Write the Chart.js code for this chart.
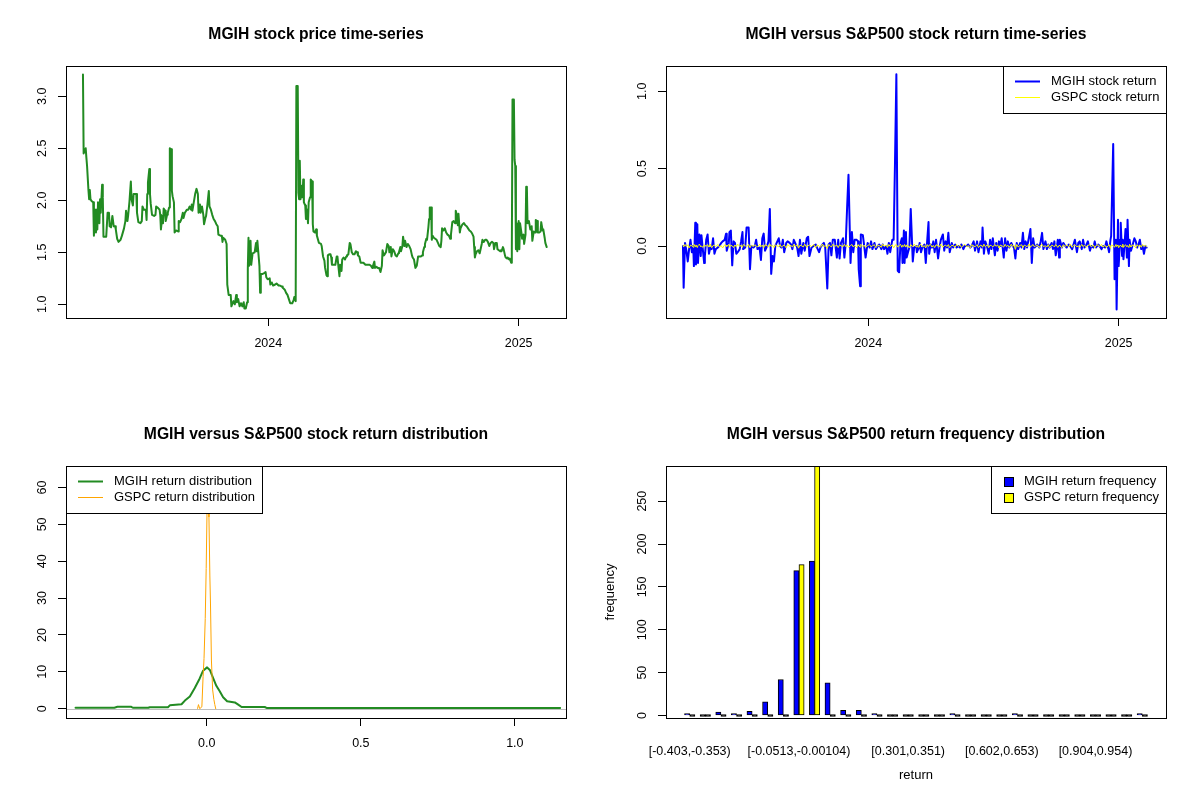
<!DOCTYPE html>
<html>
<head>
<meta charset="utf-8">
<title>MGIH vs S&amp;P500</title>
<script src="https://cdn.jsdelivr.net/npm/chart.js@4.4.1/dist/chart.umd.min.js"></script>
<style>
    html, body { margin: 0; padding: 0; background: #ffffff; }
    #wrap { position: relative; width: 1200px; height: 800px; }
    #wrap canvas { position: absolute; width: 600px; height: 400px; }
</style>
</head>
<body>
<div id="wrap">
    <canvas id="priceChart" width="600" height="400" style="left:0;top:0"></canvas>
    <canvas id="returnChart" width="600" height="400" style="left:600px;top:0"></canvas>
    <canvas id="densityChart" width="600" height="400" style="left:0;top:400px"></canvas>
    <canvas id="freqChart" width="600" height="400" style="left:600px;top:400px"></canvas>
</div>
<script>
// x values of the time-series are days counted from 2024-01-01
const yearTicks = [0, 366];
const yearLabels = ["2024", "2025"];

const priceDays = [
    -271,-270,-267,-266,-265,-263,-262,-261,-260,-258,
    -256,-255,-253,-252,-251,-250,-249,-247,-246,-245,
    -243,-242,-241,-237,-235,-233,-232,-230,-228,-226,
    -224,-223,-221,-219,-216,-214,-211,-209,-208,-206,
    -205,-203,-201,-200,-198,-197,-193,-192,-190,-187,
    -185,-184,-182,-179,-178,-177,-176,-174,-173,-172,
    -170,-167,-165,-164,-162,-159,-158,-157,-155,-154,
    -153,-151,-150,-148,-147,-145,-144,-142,-141,-140,
    -138,-137,-135,-132,-131,-129,-127,-125,-124,-122,
    -119,-117,-115,-113,-112,-111,-109,-107,-105,-103,
    -102,-100,-99,-97,-95,-94,-92,-91,-89,-87,
    -86,-84,-82,-80,-78,-76,-74,-73,-70,-68,
    -67,-66,-63,-61,-60,-58,-55,-54,-51,-49,
    -47,-46,-44,-42,-40,-38,-36,-35,-33,-31,
    -30,-29,-28,-26,-25,-23,-20,-18,-17,-16,
    -14,-13,-12,-11,-9,-6,-4,-3,-1,2,
    3,5,7,10,12,15,17,20,21,24,
    26,28,31,32,35,37,38,40,41,43,
    44,45,46,47,48,49,50,51,52,54,
    55,57,58,59,61,62,64,65,66,68,
    70,71,74,77,78,80,82,83,85,86,
    87,89,91,92,93,95,98,100,101,103,
    104,105,107,108,110,112,114,115,117,119,
    120,122,124,126,128,130,131,133,135,137,
    139,142,145,148,150,152,153,155,156,158,
    160,162,164,166,167,169,170,172,174,176,
    177,179,180,182,184,186,188,190,191,193,
    194,196,197,199,200,202,204,206,208,210,
    211,213,215,217,219,221,223,225,226,228,
    229,231,232,234,235,236,238,239,240,242,
    244,246,248,250,252,253,254,256,258,260,
    262,264,266,267,269,271,273,274,276,277,
    278,280,281,283,284,286,288,290,292,294,
    296,298,300,301,302,303,305,307,309,310,
    312,313,315,317,319,321,323,325,327,329,
    330,332,334,335,337,339,340,341,343,344,
    346,347,349,350,352,353,355,356,357,359,
    360,361,362,363,364,366,367,368,370,371,
    373,374,376,377,378,379,381,383,385,386,
    388,390,391,393,394,396,398,399,401,402,
    404,405,407
];
const priceVals = [
    3.21,2.45,2.50,2.41,2.33,2.10,2.01,2.10,2.01,1.99,
    1.98,1.66,1.91,1.69,1.91,1.72,1.98,1.78,2.01,1.88,
    2.15,2.03,1.65,1.65,1.88,1.88,1.75,1.74,1.85,1.75,
    1.75,1.72,1.63,1.60,1.62,1.66,1.73,1.80,1.90,1.80,
    1.85,1.99,2.18,2.01,1.95,2.06,2.06,1.88,1.79,1.78,
    1.80,1.94,1.91,1.91,1.81,2.06,2.17,2.30,2.06,1.97,
    1.86,1.85,1.86,1.94,1.93,1.91,1.86,1.72,1.85,1.78,
    1.92,1.90,1.80,1.86,1.88,1.93,2.50,2.49,2.09,2.04,
    1.98,1.69,1.71,1.70,1.80,1.79,1.82,1.88,1.83,1.88,
    1.91,1.91,1.94,1.91,1.96,1.90,1.98,2.06,2.11,2.06,
    1.88,1.96,1.88,1.94,1.86,1.77,1.83,1.85,1.96,2.09,
    1.94,1.91,1.86,1.82,1.80,1.77,1.75,1.67,1.66,1.66,
    1.60,1.64,1.62,1.58,1.19,1.09,1.09,0.98,1.03,1.00,
    1.09,1.02,1.05,0.98,1.01,0.98,1.02,0.96,0.96,1.02,
    1.34,1.64,1.37,1.61,1.38,1.49,1.50,1.59,1.51,1.61,
    1.45,1.37,1.11,1.29,1.29,1.30,1.31,1.26,1.24,1.25,
    1.19,1.21,1.18,1.19,1.20,1.18,1.18,1.17,1.16,1.14,
    1.11,1.09,1.03,1.01,1.01,1.04,1.07,1.03,3.10,3.10,
    2.07,2.01,2.38,2.01,2.04,2.14,2.03,2.20,1.98,1.95,
    1.82,1.91,1.78,1.98,2.03,2.20,2.18,1.77,1.70,1.69,
    1.72,1.66,1.59,1.58,1.56,1.46,1.42,1.35,1.28,1.27,
    1.47,1.48,1.48,1.45,1.38,1.38,1.38,1.46,1.46,1.33,
    1.27,1.38,1.32,1.43,1.45,1.43,1.46,1.47,1.48,1.59,
    1.58,1.50,1.48,1.48,1.51,1.50,1.47,1.46,1.40,1.40,
    1.40,1.38,1.38,1.38,1.37,1.35,1.37,1.41,1.35,1.36,
    1.35,1.35,1.31,1.37,1.52,1.47,1.48,1.50,1.58,1.56,
    1.50,1.55,1.46,1.53,1.51,1.47,1.46,1.49,1.50,1.55,
    1.51,1.56,1.65,1.56,1.61,1.55,1.58,1.56,1.53,1.47,
    1.45,1.43,1.35,1.37,1.46,1.46,1.46,1.47,1.50,1.55,
    1.58,1.63,1.62,1.74,1.82,1.93,1.93,1.62,1.66,1.64,
    1.63,1.62,1.59,1.56,1.55,1.61,1.73,1.71,1.73,1.69,
    1.67,1.66,1.63,1.67,1.79,1.80,1.78,1.90,1.85,1.76,
    1.87,1.69,1.73,1.76,1.77,1.78,1.76,1.75,1.73,1.71,
    1.70,1.68,1.65,1.55,1.45,1.48,1.51,1.52,1.49,1.52,
    1.58,1.62,1.60,1.62,1.62,1.60,1.56,1.59,1.60,1.59,
    1.53,1.59,1.59,1.53,1.52,1.51,1.52,1.51,1.55,1.53,
    1.47,1.45,1.44,1.45,1.43,1.44,1.40,1.53,2.97,2.97,
    2.39,2.33,1.53,1.78,1.51,1.80,1.53,1.78,1.69,1.63,
    1.67,1.58,1.67,2.13,2.12,1.78,1.80,1.72,1.75,1.61,
    1.70,1.69,1.81,1.80,1.69,1.69,1.70,1.79,1.71,1.72,
    1.64,1.59,1.55
];

// daily returns, MGIH and GSPC share the same trading days
const retDays = [
    -271,-270,-268,-266,-264,-262,-260,-258,-256,-255,
    -253,-252,-250,-249,-247,-245,-244,-242,-240,-239,
    -237,-235,-233,-231,-229,-227,-225,-223,-220,-218,
    -215,-213,-210,-208,-207,-204,-203,-201,-199,-197,
    -195,-193,-191,-188,-186,-184,-183,-180,-178,-175,
    -173,-171,-168,-166,-164,-162,-159,-157,-155,-153,
    -151,-148,-146,-144,-142,-140,-138,-136,-134,-131,
    -129,-127,-125,-123,-120,-118,-115,-113,-111,-109,
    -107,-104,-102,-100,-98,-95,-93,-90,-88,-86,
    -83,-80,-77,-75,-72,-70,-67,-65,-63,-60,
    -58,-56,-54,-52,-49,-46,-44,-42,-40,-37,
    -35,-33,-31,-29,-26,-24,-22,-20,-17,-15,
    -14,-12,-11,-8,-6,-4,-1,2,4,6,
    9,11,14,16,19,21,23,26,28,30,
    32,35,37,39,41,43,45,47,49,50,
    52,53,55,56,58,60,62,65,67,70,
    71,74,75,77,79,82,84,86,88,89,
    91,93,95,97,99,102,104,106,109,111,
    113,115,117,119,122,124,127,129,132,134,
    136,139,141,144,146,149,151,154,156,159,
    161,164,166,167,169,171,174,176,178,180,
    182,185,187,189,191,193,195,198,200,202,
    204,206,209,211,213,215,217,219,222,224,
    226,228,230,232,235,237,239,241,243,245,
    247,250,252,254,256,259,261,263,265,268,
    270,272,274,277,279,280,283,285,288,290,
    293,295,298,300,302,305,307,309,312,314,
    316,319,321,324,326,329,331,333,336,338,
    341,343,346,348,351,352,354,355,358,360,
    362,363,365,366,368,369,371,372,373,375,
    376,378,379,381,382,384,386,389,391,393,
    395,397,399,401,403,405,407
];
const mgihReturns = [
    0,-0.27,0.02,-0.03,-0.10,-0.02,0.04,-0.04,0,-0.13,
    0.15,-0.12,0.14,-0.11,0.075,-0.065,0.07,-0.02,-0.11,-0.065,
    0.04,0.075,-0.05,-0.01,-0.02,0.05,-0.05,-0.02,-0.01,0,
    0.02,0.03,0.04,0.08,-0.03,0.02,0.09,0.10,-0.125,0.03,
    0.02,-0.05,-0.04,-0.02,0.03,0.09,-0.02,-0.01,0.12,0.12,
    -0.15,0,-0.01,0,0.04,-0.02,-0.01,-0.09,0.05,0.08,
    -0.03,0,0.03,0.24,-0.18,-0.065,-0.10,0,0.02,0.05,
    0,-0.01,0.04,-0.04,0.02,0.03,0.02,0.01,-0.02,0.04,
    0.02,-0.01,-0.065,0.04,-0.05,0.02,-0.03,0.05,0.06,-0.065,
    -0.01,0,0.01,-0.01,-0.04,-0.01,0.01,0.02,-0.01,-0.275,
    0.01,0.02,-0.06,0.04,0.04,-0.075,0.04,-0.08,0.02,0.05,
    -0.075,0.02,0.25,0.46,-0.11,0.09,-0.04,0.04,0.04,0.03,
    -0.155,-0.26,0.075,0.07,0,-0.075,0.02,-0.01,0.03,-0.02,
    0.02,-0.02,0,0.01,-0.02,0.01,-0.02,0,-0.05,0.02,
    -0.04,0.04,0.04,0.54,1.11,-0.16,-0.17,0.02,0.05,-0.11,
    0.10,-0.11,0.09,-0.075,-0.04,-0.01,0.24,-0.10,-0.01,0,
    -0.04,-0.01,0.02,-0.04,-0.01,0.01,-0.11,0.03,0.155,-0.05,
    0.01,-0.01,0.03,-0.04,0.04,-0.08,-0.01,0.04,0.075,-0.03,
    0.03,-0.01,0.085,-0.04,0.02,-0.01,0.01,-0.01,0,-0.01,
    0.01,-0.02,0,0,0.01,-0.01,0,0.03,-0.03,0.03,
    -0.04,0.03,-0.01,0.12,-0.05,0.03,-0.01,-0.05,0.04,-0.02,
    0.05,-0.06,0.02,-0.03,0.03,0,0.05,-0.075,0.05,-0.03,
    0.03,-0.01,0.02,0,-0.01,-0.08,0.02,-0.02,0.02,-0.01,
    0.085,-0.02,0.03,-0.01,0.06,0.11,-0.11,0.05,-0.01,0,
    0.01,-0.01,0.03,0.085,-0.02,0.03,-0.02,0.01,-0.01,0.02,
    -0.02,0.03,-0.06,0.04,-0.075,0.04,-0.01,0.02,0,-0.01,
    0.01,0,-0.02,0.01,0.04,-0.04,0.02,0.03,-0.02,0.04,
    -0.01,0.01,0.03,-0.03,0,-0.01,0.03,-0.01,0.01,0,
    -0.02,0,-0.01,0.03,-0.02,-0.04,0.04,0.065,0.66,-0.215,
    0.04,-0.41,0.17,-0.13,0.04,0.15,-0.065,0.04,-0.085,0.04,
    0.11,-0.075,0.17,-0.13,0.04,-0.03,0,0.05,0.03,-0.01,
    0.01,0.04,-0.02,0,-0.05,0,-0.01
];
const gspcReturns = [
    0.004,-0.006,0.010,-0.003,0.008,-0.012,0.005,0.002,-0.008,0.011,
    -0.004,0.007,-0.010,0.003,0.012,-0.005,0.001,-0.009,0.006,0.004,
    -0.002,0.009,-0.007,0.013,-0.011,0.003,0.006,-0.004,0.010,-0.006,
    0.002,-0.013,0.008,0.005,-0.003,0.011,-0.008,0.004,0.001,-0.010,
    0.007,-0.005,0.012,-0.002,0.004,-0.009,0.009,0.003,-0.006,0.010,
    -0.011,0.005,-0.003,0.008,0.002,-0.007,0.011,-0.004,0.006,-0.012,
    0.009,0.001,-0.006,0.012,-0.003,0.005,-0.010,0.007,0.003,-0.005,
    0.010,-0.008,0.002,0.006,-0.012,0.009,-0.001,0.004,-0.007,0.011,
    -0.003,0.008,-0.014,0.005,0.003,-0.006,0.012,-0.009,0.002,0.007,
    -0.004,0.010,-0.011,0.006,0.001,-0.008,0.013,-0.005,0.004,-0.016,
    0.009,0.003,-0.007,0.011,-0.002,0.006,-0.010,0.008,0.002,-0.005,
    0.012,-0.004,0.007,-0.009,0.003,0.010,-0.006,0.005,-0.012,0.008,
    0.001,-0.007,0.011,-0.003,0.006,-0.010,0.004,0.009,-0.005,0.002,
    0.008,-0.011,0.005,0.003,-0.008,0.012,-0.002,0.006,-0.009,0.010,
    -0.004,0.007,-0.012,0.004,0.009,-0.006,0.002,0.011,-0.008,0.005,
    -0.003,0.010,-0.007,0.006,0.001,-0.011,0.008,-0.004,0.012,-0.006,
    0.003,-0.009,0.007,0.010,-0.005,0.002,-0.012,0.009,-0.003,0.006,
    0.011,-0.007,0.004,-0.010,0.008,0.001,-0.005,0.012,-0.008,0.003,
    0.006,-0.004,0.009,-0.011,0.005,0.002,-0.007,0.010,-0.003,0.007,
    -0.009,0.004,0.011,-0.006,0.003,-0.012,0.008,0.001,-0.005,0.009,
    -0.010,0.006,0.002,-0.008,0.012,-0.004,0.007,-0.011,0.005,0.003,
    -0.006,0.010,-0.002,0.008,-0.013,0.006,0.003,-0.007,0.011,-0.004,
    0.005,-0.009,0.012,-0.003,0.007,-0.022,0.010,-0.006,0.004,0.008,
    -0.011,0.006,0.002,-0.005,0.013,-0.008,0.004,0.009,-0.006,0.003,
    0.007,-0.010,0.005,0.011,-0.004,0.002,-0.007,0.009,-0.012,0.006,
    0.003,-0.006,0.010,-0.009,0.005,0.001,-0.011,0.008,-0.003,0.007,
    -0.005,0.012,-0.008,0.004,0.009,-0.006,0.002,-0.010,0.011,-0.004,
    0.006,-0.008,0.003,0.010,-0.005,0.007,-0.012,0.004,0.008,-0.003,
    0.011,-0.007,0.005,-0.010,0.002,0.009,-0.015,0.006,0.003,-0.008,
    0.010,-0.004,0.007,-0.011,0.005,0.002,-0.006,0.012,-0.009,0.004,
    0.008,-0.005,0.003,-0.010,0.011,-0.007,0.006,0.001,-0.012,0.009,
    -0.004,0.007,-0.008,0.010,-0.003,0.005,-0.006
];

// kernel density curves
const mgihDensX = [-0.426,-0.30,-0.29,-0.245,-0.24,-0.19,-0.185,-0.126,-0.12,-0.082,-0.071,-0.055,-0.039,-0.023,-0.012,0.001,0.010,0.021,0.031,0.042,0.053,0.066,0.091,0.102,0.113,0.188,0.194,0.45,0.70,1.147];
const mgihDensY = [0.25,0.25,0.5,0.5,0.25,0.25,0.4,0.4,0.9,1.2,2.2,3.3,5.6,8.2,10.3,11.2,10.5,8.2,6.2,4.7,3.1,2.0,1.7,1.1,0.45,0.45,0.2,0.2,0.2,0.2];
const gspcDensX = [-0.030,-0.027,-0.023,-0.016,-0.012,-0.009,-0.005,-0.002,0.001,0.004,0.007,0.010,0.012,0.015,0.019,0.023,0.026,0.029];
const gspcDensY = [0,1.1,0,0.5,8.7,13.6,24.5,38,55,63.3,52,36,28.4,13.2,5.1,2.5,1.1,0];

// return frequency table
const binLabels = [
    "[-0.403,-0.353)","[-0.353,-0.303)","[-0.303,-0.252)","[-0.252,-0.202)","[-0.202,-0.152)",
    "[-0.152,-0.102)","[-0.102,-0.0513)","[-0.0513,-0.00104)","[-0.00104,0.0492)","[0.0492,0.0995)",
    "[0.0995,0.15)","[0.15,0.2)","[0.2,0.25)","[0.25,0.301)","[0.301,0.351)",
    "[0.351,0.401)","[0.401,0.451)","[0.451,0.502)","[0.502,0.552)","[0.552,0.602)",
    "[0.602,0.653)","[0.653,0.703)","[0.703,0.753)","[0.753,0.803)","[0.803,0.854)",
    "[0.854,0.904)","[0.904,0.954)","[0.954,1)","[1,1.05)","[1.05,1.11]"
];
const shownBins = [0, 7, 14, 20, 26];
const mgihFreq = [1,0,4,1,5,16,42,169,180,38,6,6,1,0,0,0,0,1,0,0,0,1,0,0,0,0,0,0,0,1];
const gspcFreq = [0,0,0,0,0,0,0,176,291,0,0,0,0,0,0,0,0,0,0,0,0,0,0,0,0,0,0,0,0,0];

const FONT = "'Liberation Sans', Arial, Helvetica, sans-serif";
const TICK_SIZE = 12.5;
Chart.defaults.font.family = FONT;
Chart.defaults.font.size = TICK_SIZE;
Chart.defaults.color = "#000000";

const pts = (xs, ys) => xs.map((x, i) => ({ x, y: ys[i] }));

// R-like box around the plot region plus vertical y tick labels
const rFrame = {
    id: "rFrame",
    afterDraw(chart, args, opts) {
        const { ctx, chartArea: a } = chart;
        const ys = chart.scales.y;
        ctx.save();
        ctx.font = TICK_SIZE + "px " + FONT;
        ctx.fillStyle = "#000";
        ctx.textAlign = "center";
        ctx.textBaseline = "middle";
        ys.ticks.forEach(t => {
            ctx.save();
            ctx.translate(a.left - 23.5, ys.getPixelForValue(t.value));
            ctx.rotate(-Math.PI / 2);
            ctx.fillText(t.value.toFixed(opts.decimals || 0), 0, 0);
            ctx.restore();
        });
        ctx.strokeStyle = "#000";
        ctx.lineWidth = 1;
        ctx.strokeRect(Math.round(a.left) + 0.5, Math.round(a.top) + 0.5,
            Math.round(a.right - a.left), Math.round(a.bottom - a.top));
        ctx.restore();
    }
};

// grey zero line of plot.density
const zeroLine = {
    id: "zeroLine",
    beforeDatasetsDraw(chart, args, opts) {
        if (!opts.show) return;
        const { ctx, chartArea: a } = chart;
        const y = Math.round(chart.scales.y.getPixelForValue(0)) + 0.5;
        ctx.save();
        ctx.strokeStyle = "#BEBEBE";
        ctx.lineWidth = 1;
        ctx.beginPath();
        ctx.moveTo(a.left, y);
        ctx.lineTo(a.right, y);
        ctx.stroke();
        ctx.restore();
    }
};

// boxed legend in a corner of the plot region
const rLegend = {
    id: "rLegend",
    afterDatasetsDraw(chart, args, opts) {
        if (!opts.show) return;
        const { ctx, chartArea: a } = chart;
        const sets = chart.data.datasets;
        const isBox = opts.symbol === "box";
        ctx.save();
        ctx.font = "13px " + FONT;
        const textW = Math.max(...sets.map(d => ctx.measureText(d.label).width));
        const textX = isBox ? 33 : 48;
        const w = Math.round(textX + textW + 7);
        const h = 47;
        const x0 = Math.round(opts.corner === "left" ? a.left : a.right - w);
        const y0 = Math.round(a.top);
        ctx.fillStyle = "#fff";
        ctx.fillRect(x0, y0, w, h);
        ctx.strokeStyle = "#000";
        ctx.lineWidth = 1;
        ctx.strokeRect(x0 + 0.5, y0 + 0.5, w, h);
        sets.forEach((d, i) => {
            const y = y0 + 15.5 + i * 16;
            if (isBox) {
                ctx.fillStyle = d.legendColor;
                ctx.fillRect(x0 + 13, Math.round(y - 5), 9, 9);
                ctx.strokeStyle = "#000";
                ctx.lineWidth = 1;
                ctx.strokeRect(x0 + 13.5, Math.round(y - 5) + 0.5, 9, 9);
            } else {
                ctx.strokeStyle = d.borderColor;
                ctx.lineWidth = d.borderWidth;
                ctx.beginPath();
                ctx.moveTo(x0 + 12, y);
                ctx.lineTo(x0 + 37, y);
                ctx.stroke();
            }
            ctx.fillStyle = "#000";
            ctx.textAlign = "left";
            ctx.textBaseline = "middle";
            ctx.fillText(d.label, x0 + textX, y);
        });
        ctx.restore();
    }
};

Chart.register(rFrame, zeroLine, rLegend);

function xAxis(min, max, tickValues, label, opt = {}) {
    return {
        type: "linear",
        min, max,
        offset: false,
        afterBuildTicks: s => { s.ticks = tickValues.map(v => ({ value: v })); },
        afterFit: s => { s.height = 82; },
        border: { display: false },
        grid: { display: !opt.noTicks, offset: false, drawOnChartArea: false, tickLength: 8, color: "#000" },
        ticks: { autoSkip: false, maxRotation: 0, minRotation: 0, padding: opt.noTicks ? 18 : 10, callback: label },
        title: opt.title
            ? { display: true, text: opt.title, padding: { top: 0, bottom: 17 }, font: { size: 13 } }
            : { display: false }
    };
}

function yAxis(min, max, tickValues, opt = {}) {
    return {
        type: "linear",
        min, max,
        afterBuildTicks: s => { s.ticks = tickValues.map(v => ({ value: v })); },
        afterFit: s => { s.width = 66; },
        border: { display: false },
        grid: { drawOnChartArea: false, tickLength: 8, color: "#000" },
        ticks: { display: false },
        title: opt.title
            ? { display: true, text: opt.title, padding: { top: 3, bottom: 0 }, font: { size: 13 } }
            : { display: false }
    };
}

function baseOptions(title, scales, plugins) {
    return {
        responsive: false,
        devicePixelRatio: 1,
        animation: false,
        events: [],
        layout: { padding: { left: 0, right: 34, top: 0, bottom: 0 }, autoPadding: false },
        scales,
        plugins: Object.assign({
            legend: { display: false },
            tooltip: { enabled: false },
            title: {
                display: true,
                text: title,
                fullSize: false,
                font: { size: 15.7, weight: "bold" },
                color: "#000",
                padding: { top: 25.6, bottom: 21.6 }
            }
        }, plugins)
    };
}

function lineSet(label, data, color, width, order) {
    return {
        label, data, order,
        borderColor: color,
        backgroundColor: color,
        borderWidth: width,
        pointRadius: 0,
        tension: 0,
        fill: false,
        borderCapStyle: "round",
        borderJoinStyle: "round"
    };
}

const xDayMin = -295.8, xDayMax = 435.2;
const yearLabel = v => yearLabels[yearTicks.indexOf(v)];

// MGIH stock price
new Chart(document.getElementById("priceChart"), {
    type: "line",
    data: { datasets: [lineSet("MGIH", pts(priceDays, priceVals), "#228B22", 2, 0)] },
    options: baseOptions("MGIH stock price time-series", {
        x: xAxis(xDayMin, xDayMax, yearTicks, yearLabel),
        y: yAxis(0.868, 3.291, [1.0, 1.5, 2.0, 2.5, 3.0])
    }, { rFrame: { decimals: 1 } })
});

// MGIH and GSPC returns
new Chart(document.getElementById("returnChart"), {
    type: "line",
    data: {
        datasets: [
            lineSet("MGIH stock return", pts(retDays, mgihReturns), "#0000FF", 2, 1),
            lineSet("GSPC stock return", pts(retDays, gspcReturns), "#FFFF00", 1, 0)
        ]
    },
    options: baseOptions("MGIH versus S&P500 stock return time-series", {
        x: xAxis(xDayMin, xDayMax, yearTicks, yearLabel),
        y: yAxis(-0.4654, 1.1636, [0, 0.5, 1.0])
    }, { rFrame: { decimals: 1 }, rLegend: { show: true, corner: "right", symbol: "line" } })
});

// return densities
new Chart(document.getElementById("densityChart"), {
    type: "line",
    data: {
        datasets: [
            lineSet("MGIH return distribution", pts(mgihDensX, mgihDensY), "#228B22", 2, 1),
            lineSet("GSPC return distribution", pts(gspcDensX, gspcDensY), "#FFA500", 1, 0)
        ]
    },
    options: baseOptions("MGIH versus S&P500 stock return distribution", {
        x: xAxis(-0.457, 1.166, [0, 0.5, 1.0], v => v.toFixed(1)),
        y: yAxis(-2.53, 65.83, [0, 10, 20, 30, 40, 50, 60])
    }, {
        rFrame: { decimals: 0 },
        zeroLine: { show: true },
        rLegend: { show: true, corner: "left", symbol: "line" }
    })
});

// grouped frequency bars: each bin holds two unit-wide bars followed by a unit gap
// empty bins collapse to a flat black outline, as barplot draws them
const groupSpan = 3 * binLabels.length - 1;
const barSet = (label, counts, color, shift) => ({
    label,
    legendColor: color,
    data: counts.map((c, k) => ({ x: 3 * k + shift, y: c })),
    backgroundColor: counts.map(c => (c === 0 ? "#000" : color)),
    borderColor: "#000",
    borderWidth: 1,
    borderSkipped: false,
    minBarLength: 2,
    grouped: false,
    barPercentage: 1,
    categoryPercentage: 1
});

new Chart(document.getElementById("freqChart"), {
    type: "bar",
    data: {
        datasets: [
            barSet("MGIH return frequency", mgihFreq, "#0000FF", 1.5),
            barSet("GSPC return frequency", gspcFreq, "#FFFF00", 2.5)
        ]
    },
    options: baseOptions("MGIH versus S&P500 return frequency distribution", {
        x: xAxis(1 - 0.04 * groupSpan, 1 + groupSpan + 0.04 * groupSpan,
            shownBins.map(k => 3 * k + 2), v => binLabels[(v - 2) / 3],
            { noTicks: true, title: "return" }),
        y: yAxis(-0.01 * Math.max(...gspcFreq), Math.max(...gspcFreq), [0, 50, 100, 150, 200, 250], { title: "frequency" })
    }, {
        rFrame: { decimals: 0 },
        rLegend: { show: true, corner: "right", symbol: "box" }
    })
});
</script>
</body>
</html>
